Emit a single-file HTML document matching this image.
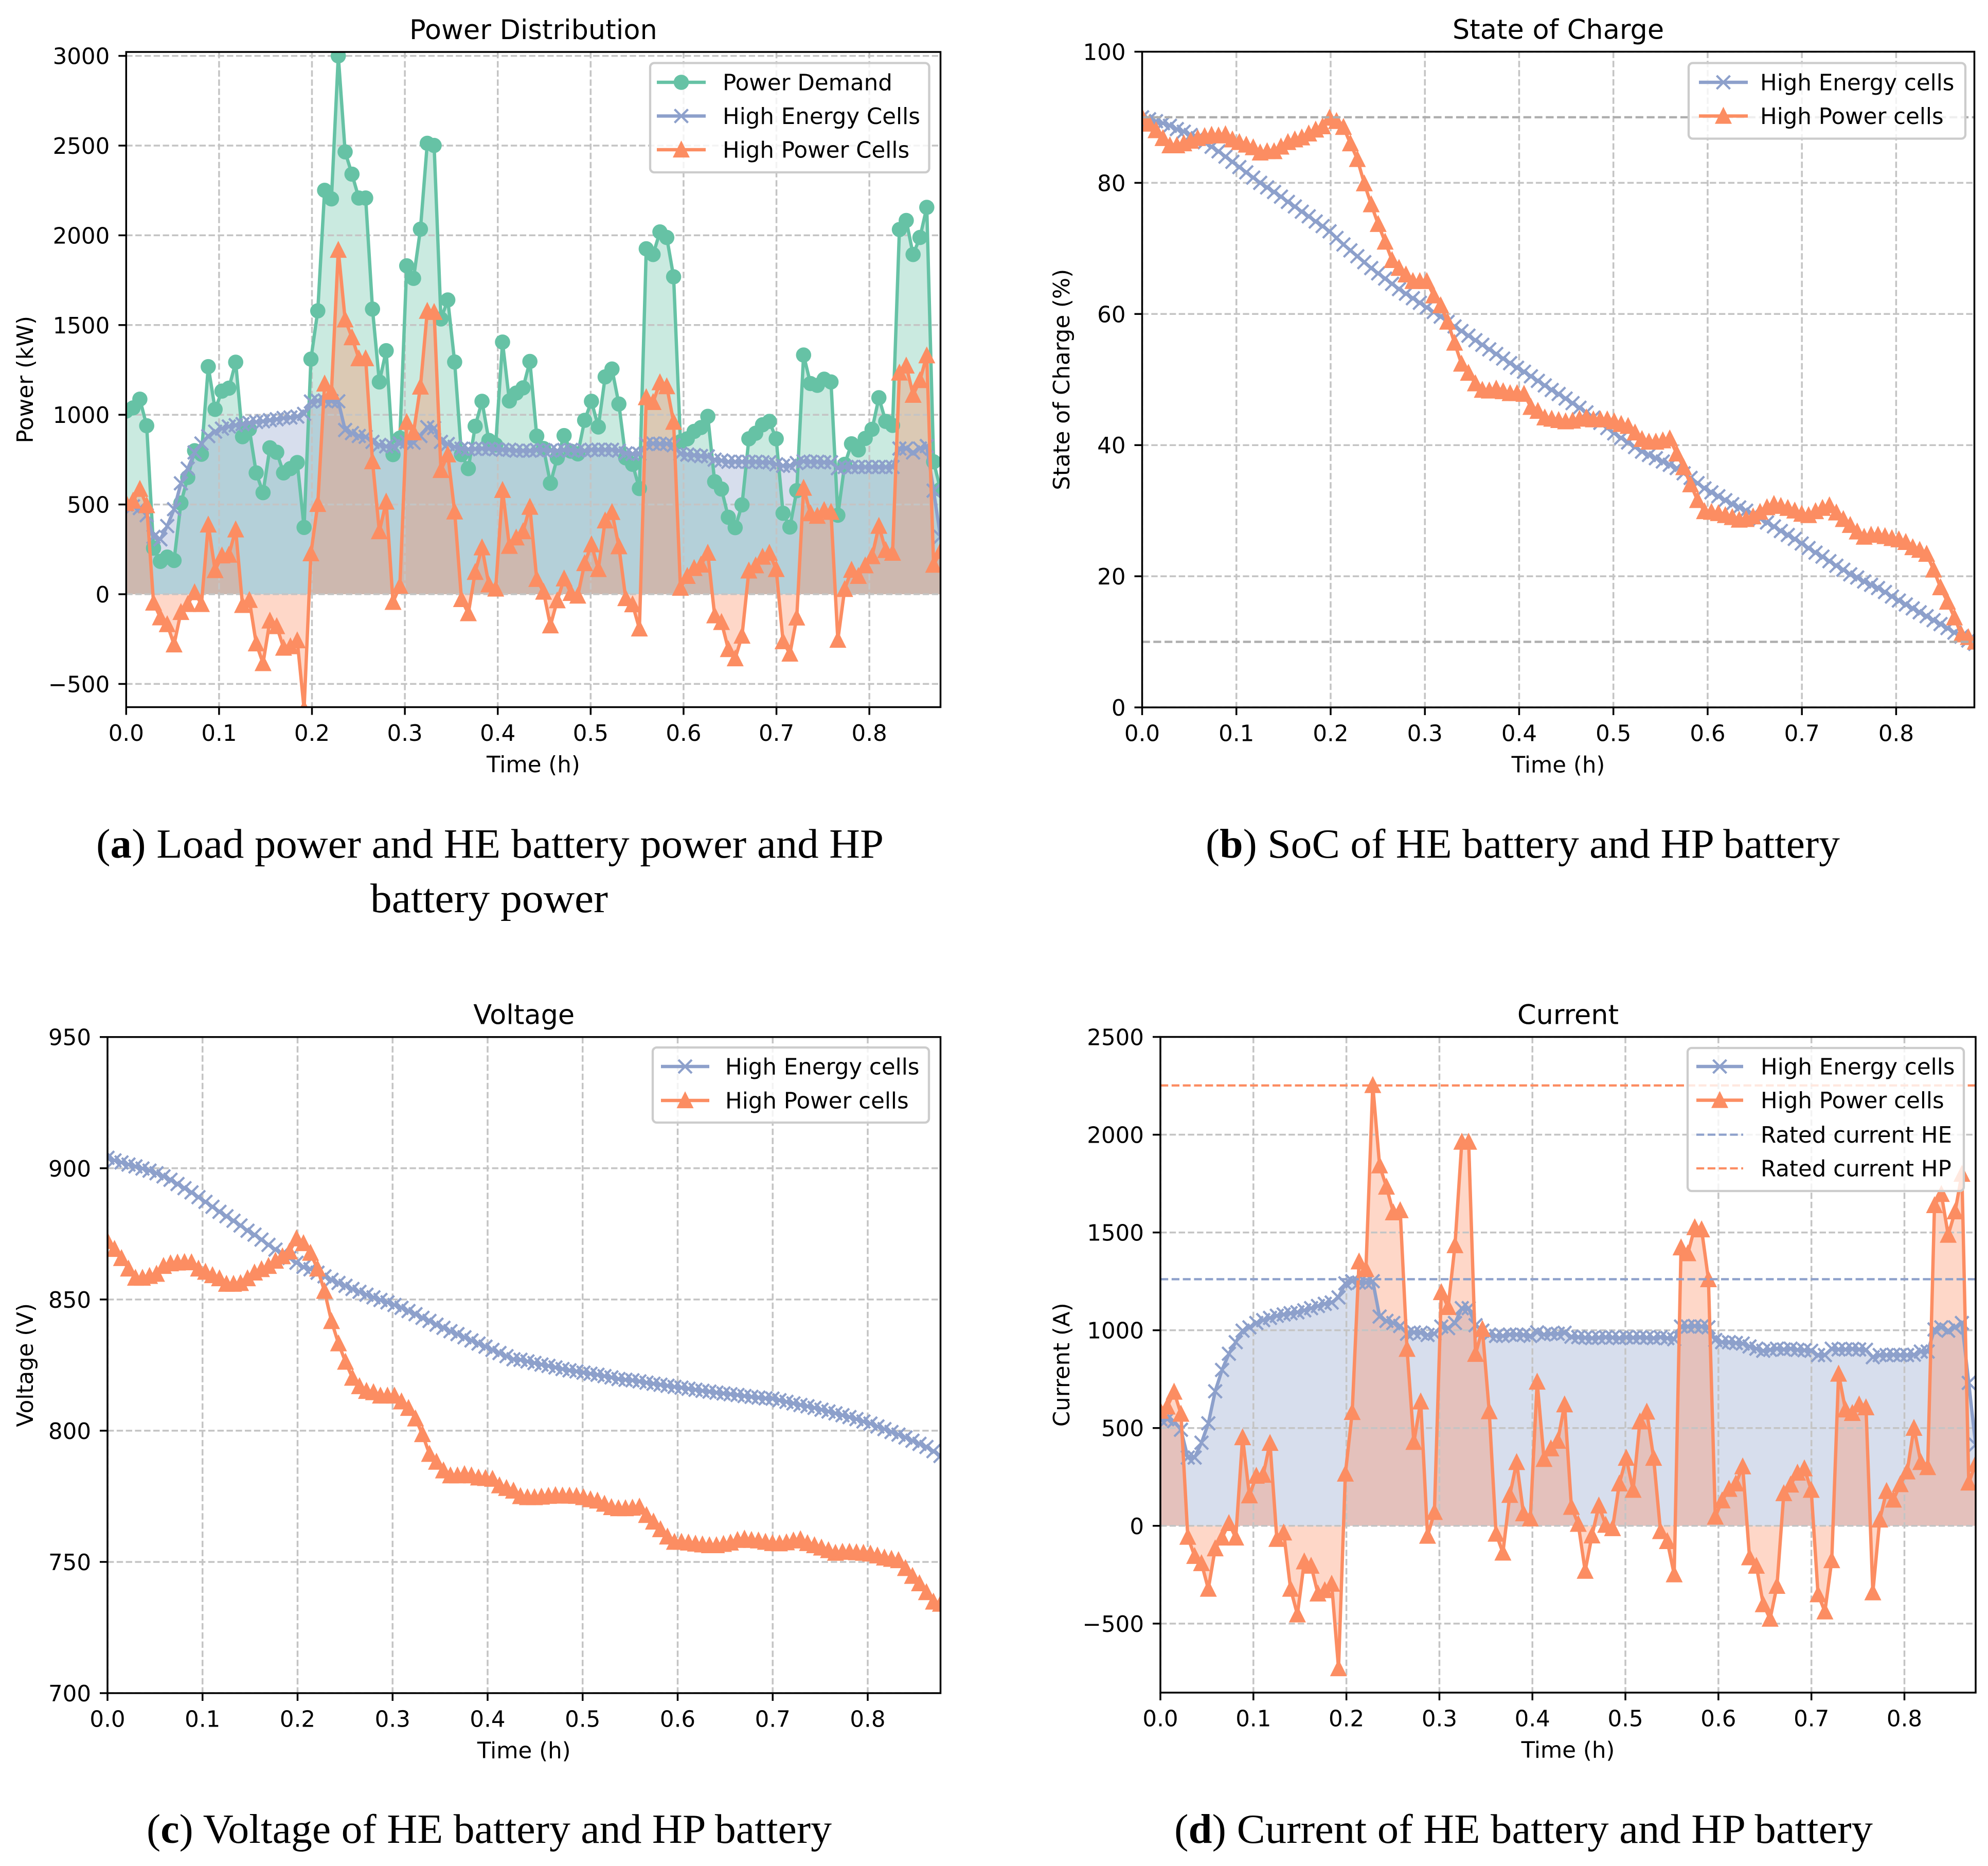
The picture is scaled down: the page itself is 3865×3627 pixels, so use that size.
<!DOCTYPE html>
<html lang="en">
<head>
<meta charset="utf-8">
<title>Hybrid battery simulation results</title>
<style>
html,body{margin:0;padding:0;background:#fff}
svg{display:block}
text{font-family:"DejaVu Sans",sans-serif;fill:#000}
.cap{font-family:"Liberation Serif","DejaVu Serif",serif;font-size:80px}
.leg{font-size:43.5px}
</style>
</head>
<body>
<svg id="figure" xmlns="http://www.w3.org/2000/svg" width="3865" height="3627" viewBox="0 0 3865 3627">
<rect x="0" y="0" width="3865" height="3627" fill="#fff"/>
<g id="panels"></g>

<g>
<rect x="1264" y="122.5" width="542.5" height="212.5" rx="8" fill="#fff" fill-opacity="0.8" stroke="#cccccc" stroke-width="4.35"/>
<line x1="1277" x2="1372" y1="160" y2="160" stroke="#66c2a5" stroke-width="6.5"/>
<circle cx="1324.5" cy="160" r="14.8" fill="#66c2a5"/>
<text class="leg" x="1405" y="175.5">Power Demand</text>
<line x1="1277" x2="1372" y1="225.5" y2="225.5" stroke="#8da0cb" stroke-width="6.5"/>
<path d="M1311.5 212.5L1337.5 238.5M1311.5 238.5L1337.5 212.5" stroke="#8da0cb" stroke-width="4.35" fill="none"/>
<text class="leg" x="1405" y="241">High Energy Cells</text>
<line x1="1277" x2="1372" y1="291" y2="291" stroke="#fc8d62" stroke-width="6.5"/>
<path d="M1324.5 278L1337.5 304L1311.5 304Z" fill="#fc8d62" stroke="#fc8d62" stroke-width="4.35"/>
<text class="leg" x="1405" y="306.5">High Power Cells</text>
</g>

<g>
<rect x="3283" y="122.5" width="538" height="147" rx="8" fill="#fff" fill-opacity="0.8" stroke="#cccccc" stroke-width="4.35"/>
<line x1="3303" x2="3398" y1="160" y2="160" stroke="#8da0cb" stroke-width="6.5"/>
<path d="M3337.5 147L3363.5 173M3337.5 173L3363.5 147" stroke="#8da0cb" stroke-width="4.35" fill="none"/>
<text class="leg" x="3422" y="175.5">High Energy cells</text>
<line x1="3303" x2="3398" y1="225.5" y2="225.5" stroke="#fc8d62" stroke-width="6.5"/>
<path d="M3350.5 212.5L3363.5 238.5L3337.5 238.5Z" fill="#fc8d62" stroke="#fc8d62" stroke-width="4.35"/>
<text class="leg" x="3422" y="241">High Power cells</text>
</g>

<g>
<rect x="1269" y="2036" width="537" height="146" rx="8" fill="#fff" fill-opacity="0.8" stroke="#cccccc" stroke-width="4.35"/>
<line x1="1285" x2="1379" y1="2073" y2="2073" stroke="#8da0cb" stroke-width="6.5"/>
<path d="M1319 2060L1345 2086M1319 2086L1345 2060" stroke="#8da0cb" stroke-width="4.35" fill="none"/>
<text class="leg" x="1410" y="2088.5">High Energy cells</text>
<line x1="1285" x2="1379" y1="2139" y2="2139" stroke="#fc8d62" stroke-width="6.5"/>
<path d="M1332 2126L1345 2152L1319 2152Z" fill="#fc8d62" stroke="#fc8d62" stroke-width="4.35"/>
<text class="leg" x="1410" y="2154.5">High Power cells</text>
</g>

<g>
<rect x="3281" y="2037" width="537" height="278" rx="8" fill="#fff" fill-opacity="0.8" stroke="#cccccc" stroke-width="4.35"/>
<line x1="3298" x2="3389" y1="2073" y2="2073" stroke="#8da0cb" stroke-width="6.5"/>
<path d="M3330.5 2060L3356.5 2086M3330.5 2086L3356.5 2060" stroke="#8da0cb" stroke-width="4.35" fill="none"/>
<text class="leg" x="3423" y="2088.5">High Energy cells</text>
<line x1="3298" x2="3389" y1="2138.5" y2="2138.5" stroke="#fc8d62" stroke-width="6.5"/>
<path d="M3343.5 2125.5L3356.5 2151.5L3330.5 2151.5Z" fill="#fc8d62" stroke="#fc8d62" stroke-width="4.35"/>
<text class="leg" x="3423" y="2154">High Power cells</text>
<line x1="3298" x2="3389" y1="2205.5" y2="2205.5" stroke="#8da0cb" stroke-width="4.35" stroke-dasharray="15.2 6.6"/>
<text class="leg" x="3423" y="2221">Rated current HE</text>
<line x1="3298" x2="3389" y1="2271" y2="2271" stroke="#fc8d62" stroke-width="4.35" stroke-dasharray="15.2 6.6"/>
<text class="leg" x="3423" y="2286.5">Rated current HP</text>
</g>

<text class="cap" x="187" y="1667" textLength="1531" lengthAdjust="spacingAndGlyphs">(<tspan font-weight="bold">a</tspan>) Load power and HE battery power and HP</text>
<text class="cap" x="720" y="1773" textLength="462" lengthAdjust="spacingAndGlyphs">battery power</text>
<text class="cap" x="2344" y="1667" textLength="1233" lengthAdjust="spacingAndGlyphs">(<tspan font-weight="bold">b</tspan>) SoC of HE battery and HP battery</text>
<text class="cap" x="285" y="3582" textLength="1332" lengthAdjust="spacingAndGlyphs">(<tspan font-weight="bold">c</tspan>) Voltage of HE battery and HP battery</text>
<text class="cap" x="2283" y="3582" textLength="1358" lengthAdjust="spacingAndGlyphs">(<tspan font-weight="bold">d</tspan>) Current of HE battery and HP battery</text>
</svg>

<script>
const timeStepHours = 0.007366;
const timeTicks = [0, 0.1, 0.2, 0.3, 0.4, 0.5, 0.6, 0.7, 0.8];
const powerTicks = [-500, 0, 500, 1000, 1500, 2000, 2500, 3000];
const socTicks = [0, 20, 40, 60, 80, 100];
const voltageTicks = [700, 750, 800, 850, 900, 950];
const currentTicks = [-500, 0, 500, 1000, 1500, 2000, 2500];
const socLimits = [90, 10];
const ratedCurrentHE = 1261;
const ratedCurrentHP = 2252;

const powerDemand = [1021,1038,1087,939,257,183,207,188,508,651,
800,780,1268,1030,1132,1148,1293,878,920,676,
566,816,791,676,700,734,372,1310,1579,2251,
2203,3000,2465,2341,2208,2208,1589,1183,1357,778,
870,1830,1760,2034,2513,2501,1534,1640,1294,778,
700,936,1075,857,832,1405,1077,1121,1150,1297,
881,812,618,760,884,797,782,969,1075,932,
1211,1255,1060,760,724,589,1925,1893,2019,1988,
1769,850,866,907,929,991,627,586,429,371,
498,866,897,944,963,866,451,374,577,1333,
1174,1164,1198,1183,440,724,838,804,868,919,
1095,963,941,2032,2083,1893,1988,2156,738,584];

const powerHE = [500,490,480,440,320,306,380,474,618,700,
790,840,881,906,923,935,942,948,955,960,
964,970,975,982,985,990,1005,1074,1078,1080,
1076,1075,915,898,882,877,849,832,824,824,
840,849,844,882,931,926,849,837,821,811,
808,810,812,810,808,805,805,800,800,800,
804,804,800,800,804,804,800,800,805,805,
805,805,800,785,782,782,837,840,838,838,
830,782,778,775,770,768,750,745,738,738,
738,738,738,735,735,724,716,716,731,741,
738,738,735,735,702,709,709,709,709,709,
709,709,709,812,812,790,812,826,577,320];

const powerHP = [507,520,586,495,-48,-130,-168,-281,-100,-56,
10,-56,387,133,215,219,360,-61,-33,-275,
-385,-148,-179,-299,-291,-258,-640,227,502,1173,
1127,1918,1530,1431,1314,1314,740,350,515,-44,
46,959,901,1156,1578,1572,691,778,460,-28,
-107,123,260,54,30,580,268,315,350,486,
84,13,-175,-35,87,6,-9,172,277,139,
410,457,266,-23,-57,-192,1097,1070,1180,1158,
960,35,101,145,164,230,-119,-156,-307,-358,
-232,131,160,208,230,139,-263,-332,-131,592,
450,436,468,458,-255,28,135,101,160,211,
380,245,230,1234,1273,1110,1192,1330,163,240];

const socHE = [90,89.7,89.4,89.1,88.7,88.2,87.8,87.3,86.8,86.2,
85.5,84.8,84,83.2,82.4,81.6,80.8,80,79.3,78.6,
77.9,77.1,76.4,75.6,74.9,74.1,73.4,72.6,71.6,70.6,
69.7,68.8,67.9,67,66.2,65.4,64.6,63.8,63.1,62.4,
61.7,61,60.3,59.6,58.8,58.1,57.4,56.7,56,55.3,
54.6,53.9,53.2,52.5,51.8,51.2,50.5,49.8,49.1,48.4,
47.8,47.1,46.4,45.7,45,44.2,43.4,42.6,41.8,41.1,
40.4,39.7,39,38.5,38,37.5,37,36.5,35.7,35,
34.2,33.4,32.8,32.2,31.6,31,30.5,30,29.4,28.8,
28.2,27.6,26.9,26.3,25.7,25,24.3,23.6,23,22.3,
21.6,21,20.3,19.8,19.2,18.7,18.2,17.6,16.9,16.3,
15.7,15.1,14.5,13.9,13.3,12.7,12.1,11.4,10.8,10.2,9.7];

const socHP = [90,89,88,86.8,85.7,85.7,86,86.4,86.8,87.1,
87.3,87.2,87.4,86.6,86.2,85.8,85.4,84.6,84.8,84.8,
85.5,86.2,86.6,86.9,87.5,88.1,88.6,89.9,89.4,88.5,
86,83.6,79.9,76.7,73.7,71,68.2,67,66,65,
65,65,62.8,61.3,58.8,55.6,52.4,51,49.4,48.4,
48.3,48.6,48.2,47.9,47.9,47.8,45.8,45.2,44.2,44,
43.8,43.6,43.7,44,44.2,43.9,43.9,43.9,43.6,43.2,
42.9,41.9,40.9,40.5,40.5,40.7,41,38.7,36.6,34,
31.6,29.9,29.8,29.6,29.3,29,28.6,28.7,29.1,29.8,
30.5,31,30.7,30.4,30,29.5,29.3,29.9,30.4,30.8,
29.7,28.7,27.8,26.8,26,26.3,26.3,26.1,25.8,25.6,
25.2,24.4,24,23.4,21,18.3,16.1,13.7,11.1,10.7,10];

const voltageHE = [904,903,902.2,901.4,900.7,899.9,899.1,898.1,896.9,895.6,
894,892.4,890.8,889,887.2,885.3,883.4,881.7,880,878.2,
876.2,874.7,872.8,870.8,869,867.4,865.8,864,862.4,861.5,
860.2,858.8,857.5,856.3,855.2,854,852.9,851.8,850.8,849.8,
848.9,847.9,846.8,845.6,844.4,843,841.8,840.4,839.2,837.9,
836.8,835.6,834.4,833.2,832,830.8,829.6,828.4,827.2,827,
826.4,825.8,825.2,824.7,824.1,823.5,823,822.6,822.1,821.7,
821.3,820.8,820.3,819.7,819.4,819.2,818.8,818.3,817.9,817.5,
817.1,816.7,816.4,816,815.6,815.2,814.9,814.5,814.2,813.9,
813.6,813.2,812.9,812.6,812.3,812.2,811.6,811,810.4,809.8,
809.3,808.7,808,807.3,806.6,805.9,805.2,804.4,803.5,802.7,
801.6,800.6,799.5,798.5,797.4,796.2,795,793.8,792.2,790.4];

const voltageHP = [872.2,869.2,865.7,861.7,858.2,858.2,858.9,859.7,862.7,863.7,
864,864.2,864.1,861.7,860.5,859.2,858,855.9,855.9,856.2,
858,860.2,861.5,862.7,864.7,866.4,868.2,873.2,871.4,867.7,
861.7,853.2,841.7,833.2,826.2,820.1,816.9,815.1,814.6,813.3,
813.3,813.3,811.1,808.6,804.6,798.6,791.1,788.1,784.8,782.9,
782.9,783.4,782.9,782.1,781.9,781.6,779.1,778.1,777.1,775,
774.6,774.6,774.8,775.1,775.4,775.2,775.2,775.1,774.6,773.8,
773.3,772.1,770.8,770.4,770.4,770.6,771,767.8,765.3,762.4,
759.6,757.6,757.6,757.3,756.9,756.6,756.3,756.3,756.8,757.3,
758.3,758.8,758.3,758.1,757.6,757.1,757,757.4,758.1,758.6,
757.1,756.3,755.4,754.4,753.4,753.8,753.8,753.6,753.4,753.1,
752.4,751.6,751.1,750.6,747.6,744.6,741.8,738.4,734.8,734];

const currentHE = [545,545,535,491,349,349,425,524,688,797,
880,939,998,1015,1037,1052,1063,1074,1081,1087,
1092,1102,1113,1124,1135,1142,1168,1240,1251,1244,
1244,1251,1070,1048,1037,1022,982,989,987,976,
982,1019,1011,1037,1113,1113,1026,998,978,971,
971,978,978,976,971,989,978,982,982,987,
967,965,962,960,962,965,963,960,964,962,
964,962,960,965,960,954,1019,1019,1022,1019,
1015,950,939,939,935,932,917,906,895,900,
906,902,906,900,898,895,873,873,906,902,
902,905,902,900,862,873,873,875,873,873,
875,891,891,1004,1015,998,1015,1037,731,415];

const currentHP = [587,609,685,572,-57,-155,-192,-323,-116,-61,
13,-61,452,155,255,260,423,-68,-35,-323,
-454,-183,-205,-347,-330,-297,-729,266,581,1351,
1312,2253,1842,1733,1602,1613,904,428,635,-52,
70,1194,1118,1434,1963,1963,878,1006,585,-41,
-138,157,325,63,37,736,341,395,434,620,
96,9,-231,-50,103,4,-13,216,347,183,
533,583,347,-28,-79,-249,1423,1393,1526,1515,
1260,46,129,188,216,303,-162,-205,-402,-476,
-308,166,210,271,293,183,-351,-439,-177,777,
594,576,620,605,-341,31,177,133,212,277,
500,325,299,1639,1696,1487,1607,1799,220,316];

const GREEN = '#66c2a5', BLUE = '#8da0cb', ORANGE = '#fc8d62';
const NS = 'http://www.w3.org/2000/svg';
const root = document.getElementById('panels');

function el(tag, attrs, parent, txt) {
  const n = document.createElementNS(NS, tag);
  for (const k in attrs) n.setAttribute(k, attrs[k]);
  if (txt !== undefined) n.textContent = txt;
  parent.appendChild(n);
  return n;
}
function fmtTick(v) {
  return v < 0 ? '\u2212' + Math.abs(v) : String(v);
}

function drawPanel(cfg, idx) {
  const g = el('g', {}, root);
  
  

  const xScale = t => cfg.left + (t / cfg.xMax) * (cfg.right - cfg.left);
  const yScale = v => cfg.bottom - ((v - cfg.yMin) / (cfg.yMax - cfg.yMin)) * (cfg.bottom - cfg.top);

  const clipId = 'clip' + idx;
  const defs = el('defs', {}, g);
  const cp = el('clipPath', {id: clipId}, defs);
  el('rect', {x: cfg.left, y: cfg.top, width: cfg.right - cfg.left, height: cfg.bottom - cfg.top}, cp);

  const plot = el('g', {'clip-path': 'url(#' + clipId + ')'}, g);
  
  

  // area fills
  if (cfg.fill) {
    cfg.series.forEach(s => {
      const base = yScale(0);
      let d = 'M' + xScale(0).toFixed(1) + ' ' + base.toFixed(1);
      s.values.forEach((v, i) => { d += 'L' + xScale(i * timeStepHours).toFixed(1) + ' ' + yScale(v).toFixed(1); });
      d += 'L' + xScale((s.values.length - 1) * timeStepHours).toFixed(1) + ' ' + base.toFixed(1) + 'Z';
      const a = el('path', {d: d, fill: s.color, 'fill-opacity': 0.35}, plot);
      
      
    });
  }

  // grid
  timeTicks.forEach(t => {
    const gl = el('line', {x1: xScale(t), x2: xScale(t), y1: cfg.top, y2: cfg.bottom, stroke: '#c4c4c4', 'stroke-width': 3.5, 'stroke-dasharray': '12.4 5.4'}, plot);
    
    
  });
  cfg.yTicks.forEach(v => {
    const gl = el('line', {x1: cfg.left, x2: cfg.right, y1: yScale(v), y2: yScale(v), stroke: '#c4c4c4', 'stroke-width': 3.5, 'stroke-dasharray': '12.4 5.4'}, plot);
    
    
  });

  // series
  cfg.series.forEach(s => {
    const sg = el('g', {}, plot);
    
    
    let d = '';
    s.values.forEach((v, i) => { d += (i ? 'L' : 'M') + xScale(i * timeStepHours).toFixed(1) + ' ' + yScale(v).toFixed(1); });
    const ln = el('path', {d: d, fill: 'none', stroke: s.color, 'stroke-width': 6.5, 'stroke-linejoin': 'round'}, sg);
    
    
    s.values.forEach((v, i) => {
      const x = xScale(i * timeStepHours), y = yScale(v);
      const r = 13;
      let m;
      if (s.marker === 'o') {
        m = el('circle', {cx: x.toFixed(1), cy: y.toFixed(1), r: 14.8, fill: s.color}, sg);
      } else if (s.marker === 'x') {
        m = el('path', {d: 'M' + (x - r).toFixed(1) + ' ' + (y - r).toFixed(1) + 'L' + (x + r).toFixed(1) + ' ' + (y + r).toFixed(1) + 'M' + (x - r).toFixed(1) + ' ' + (y + r).toFixed(1) + 'L' + (x + r).toFixed(1) + ' ' + (y - r).toFixed(1), stroke: s.color, 'stroke-width': 4.35, fill: 'none'}, sg);
      } else {
        m = el('path', {d: 'M' + x.toFixed(1) + ' ' + (y - r).toFixed(1) + 'L' + (x + r).toFixed(1) + ' ' + (y + r).toFixed(1) + 'L' + (x - r).toFixed(1) + ' ' + (y + r).toFixed(1) + 'Z', fill: s.color, stroke: s.color, 'stroke-width': 4.35}, sg);
      }
      
      
    });
  });

  // reference lines
  (cfg.refs || []).forEach(r => {
    const rl = el('line', {x1: cfg.left, x2: cfg.right, y1: yScale(r.value), y2: yScale(r.value), stroke: r.color, 'stroke-width': 4.35, 'stroke-dasharray': '15.2 6.6'}, plot);
    
    
  });

  // spines
  const spine = el('rect', {x: cfg.left, y: cfg.top, width: cfg.right - cfg.left, height: cfg.bottom - cfg.top, fill: 'none', stroke: '#000', 'stroke-width': 3.5}, g);
  
  

  // x ticks
  timeTicks.forEach(t => {
    const x = xScale(t);
    const tk = el('line', {x1: x, x2: x, y1: cfg.bottom, y2: cfg.bottom + 15, stroke: '#000', 'stroke-width': 3.5}, g);
    
    
    const lb = el('text', {x: x, y: cfg.bottom + 65.5, 'text-anchor': 'middle', 'font-size': 43.5}, g, t.toFixed(1));
    
    
  });
  // y ticks
  cfg.yTicks.forEach(v => {
    const y = yScale(v);
    const tk = el('line', {x1: cfg.left - 15, x2: cfg.left, y1: y, y2: y, stroke: '#000', 'stroke-width': 3.5}, g);
    
    
    const lb = el('text', {x: cfg.left - 32, y: y + 16, 'text-anchor': 'end', 'font-size': 43.5}, g, fmtTick(v));
    
    
  });

  const mid = (cfg.left + cfg.right) / 2;
  const title = el('text', {x: mid, y: cfg.top - 25, 'text-anchor': 'middle', 'font-size': 52.5}, g, cfg.title);
  
  
  const xl = el('text', {x: mid, y: cfg.bottom + 126.5, 'text-anchor': 'middle', 'font-size': 43.5}, g, 'Time (h)');
  
  
  const ymid = (cfg.top + cfg.bottom) / 2;
  const yl = el('text', {x: cfg.yLabelX, y: ymid, 'text-anchor': 'middle', 'font-size': 43.5, transform: 'rotate(-90 ' + cfg.yLabelX + ' ' + ymid + ')'}, g, cfg.yLabel);
  
  
}

drawPanel({id: 'power', title: 'Power Distribution', yLabel: 'Power (kW)', yLabelX: 64, fill: true,
  left: 245.3, right: 1828.5, top: 101, bottom: 1374.5, xMax: 0.8766, yMin: -629.3, yMax: 3021.8, yTicks: powerTicks,
  series: [
    {name: 'power-demand', values: powerDemand, color: GREEN, marker: 'o'},
    {name: 'power-high-energy', values: powerHE, color: BLUE, marker: 'x'},
    {name: 'power-high-power', values: powerHP, color: ORANGE, marker: '^'}
  ]}, 0);

drawPanel({id: 'soc', title: 'State of Charge', yLabel: 'State of Charge (%)', yLabelX: 2079, fill: false,
  left: 2220.5, right: 3838.5, top: 100.5, bottom: 1375, xMax: 0.883, yMin: 0, yMax: 100, yTicks: socTicks,
  refs: [
    {name: 'soc-upper-limit-line', value: socLimits[0], color: '#aeaeae'},
    {name: 'soc-lower-limit-line', value: socLimits[1], color: '#aeaeae'}
  ],
  series: [
    {name: 'soc-high-energy', values: socHE, color: BLUE, marker: 'x'},
    {name: 'soc-high-power', values: socHP, color: ORANGE, marker: '^'}
  ]}, 1);

drawPanel({id: 'voltage', title: 'Voltage', yLabel: 'Voltage (V)', yLabelX: 64, fill: false,
  left: 209, right: 1828.5, top: 2015.7, bottom: 3291, xMax: 0.8766, yMin: 700, yMax: 950, yTicks: voltageTicks,
  series: [
    {name: 'voltage-high-energy', values: voltageHE, color: BLUE, marker: 'x'},
    {name: 'voltage-high-power', values: voltageHP, color: ORANGE, marker: '^'}
  ]}, 2);

drawPanel({id: 'current', title: 'Current', yLabel: 'Current (A)', yLabelX: 2079, fill: true,
  left: 2256, right: 3841, top: 2015.5, bottom: 3290, xMax: 0.8766, yMin: -853, yMax: 2500, yTicks: currentTicks,
  refs: [
    {name: 'rated-current-he-line', value: ratedCurrentHE, color: BLUE},
    {name: 'rated-current-hp-line', value: ratedCurrentHP, color: ORANGE}
  ],
  series: [
    {name: 'current-high-energy', values: currentHE, color: BLUE, marker: 'x'},
    {name: 'current-high-power', values: currentHP, color: ORANGE, marker: '^'}
  ]}, 3);
</script>
</body>
</html>
